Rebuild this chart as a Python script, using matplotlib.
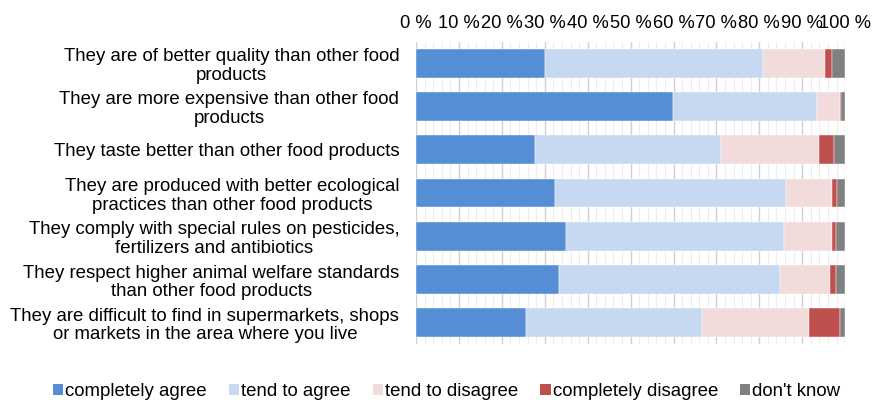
import matplotlib.pyplot as plt
import numpy as np
from matplotlib.patches import Patch

plt.rcParams['font.family'] = ['Liberation Sans', 'DejaVu Sans']

statements = [
    'They are of better quality than other food\nproducts',
    'They are more expensive than other food\nproducts',
    'They taste better than other food products',
    'They are produced with better ecological\npractices than other food products',
    'They comply with special rules on pesticides,\nfertilizers and antibiotics',
    'They respect higher animal welfare standards\nthan other food products',
    'They are difficult to find in supermarkets, shops\nor markets in the area where you live',
]
answers = ['completely agree', 'tend to agree', 'tend to disagree',
           'completely disagree', "don't know"]

completely_agree = [30.1, 59.9, 27.8, 32.5, 35.0, 33.3, 25.7]
tend_agree = [50.8, 33.6, 43.3, 53.6, 50.8, 51.5, 41.0]
tend_disagree = [14.4, 5.2, 22.9, 10.9, 11.2, 11.6, 24.8]
completely_disagree = [1.7, 0.4, 3.3, 1.0, 0.9, 1.5, 7.4]
dont_know = [3.0, 0.9, 2.7, 2.0, 2.1, 2.1, 1.1]

colors = ['#558ED5', '#C6D9F1', '#F2DCDB', '#C0504D', '#808080']

fig = plt.figure(figsize=(8.74, 4.0), dpi=100)
ax = fig.add_axes([0.476, 0.139, 0.491, 0.757])

y = np.arange(len(statements))
left = np.zeros(len(statements))
for vals, col in zip([completely_agree, tend_agree, tend_disagree,
                      completely_disagree, dont_know], colors):
    ax.barh(y, vals, left=left, height=0.66, color=col, zorder=3,
            edgecolor='white', linewidth=0.3)
    left += np.array(vals)

ax.set_xlim(0, 100)
ax.set_ylim(len(statements) - 0.5, -0.5)

# gridlines: major every 10, minor every 2
ax.set_xticks(np.arange(0, 101, 10))
ax.set_xticks(np.arange(0, 101, 2), minor=True)
ax.grid(axis='x', which='major', color='#D0D0D0', linewidth=1.0, zorder=0)
ax.grid(axis='x', which='minor', color='#EDEDED', linewidth=0.8, zorder=0)
ax.xaxis.tick_top()
ax.set_xticklabels(['%d %%' % v for v in range(0, 101, 10)], fontsize=13.2)
ax.tick_params(axis='x', which='both', length=0, pad=7)

ax.set_yticks(y)
ax.set_yticklabels(statements, fontsize=13.4, multialignment='center',
                   linespacing=1.12)
ax.tick_params(axis='y', length=0, pad=12)

for s in ax.spines.values():
    s.set_visible(False)

handles = [Patch(facecolor=c, edgecolor='none') for c in colors]
fig.legend(handles, answers, loc='center', bbox_to_anchor=(0.511, 0.022),
           ncol=5, frameon=False, fontsize=13.4, handlelength=0.55,
           handleheight=0.55, handletextpad=0.1, columnspacing=1.2)

fig.savefig('out.png', dpi=100)
